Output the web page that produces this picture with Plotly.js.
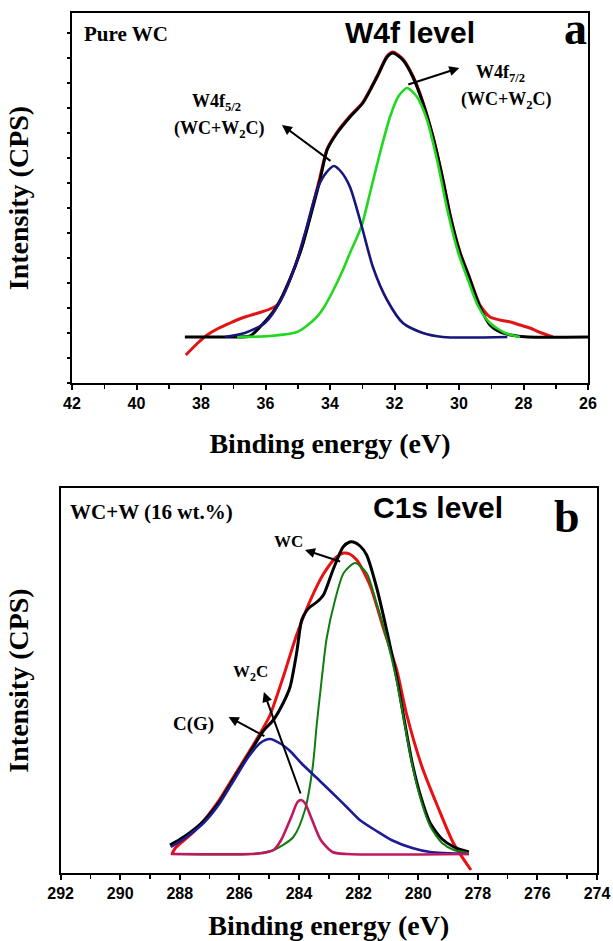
<!DOCTYPE html>
<html>
<head>
<meta charset="utf-8">
<script src="https://cdn.plot.ly/plotly-3.0.1.min.js"></script>
<style>
  html, body { margin: 0; padding: 0; background: #ffffff; }
  #chart { width: 613px; height: 941px; }
</style>
</head>
<body>
<div id="chart"></div>
<script>
// ---------- Panel (a): W4f level, pure WC ----------
// binding energy (eV) and intensity (arbitrary CPS units)
const w4fMeasuredE = [38.50, 37.10, 36.48, 36.17, 35.64, 35.24, 34.87, 34.53, 34.31, 34.09, 33.78, 33.38, 32.98, 32.54, 32.23, 32.05, 31.74, 31.43, 31.12, 30.81, 30.50, 30.28, 29.97, 29.69, 29.35, 29.04, 28.73, 28.40, 27.86, 26.00];
const w4fMeasured  = [46, 46, 47, 56, 77, 104, 136, 176, 203, 233, 250, 266, 280, 306, 326, 330, 323, 306, 280, 246, 203, 168, 130, 106, 76, 58, 51, 48, 46, 46];

const w4fFitE = [38.47, 38.10, 37.81, 37.44, 37.10, 36.73, 36.23, 35.86, 35.64, 35.24, 34.87, 34.53, 34.31, 34.09, 33.78, 33.38, 32.98, 32.54, 32.23, 32.05, 31.74, 31.43, 31.12, 30.81, 30.50, 30.28, 29.97, 29.69, 29.35, 29.04, 28.73, 28.40, 28.11, 27.80, 27.52, 27.09];
const w4fFit  = [28, 40, 48, 55, 60, 65, 70, 74, 78, 104, 137, 178, 206, 234, 251, 267, 281, 307, 327, 331, 324, 307, 281, 247, 204, 169, 131, 107, 78, 66, 63, 61, 58, 55, 51, 46];

const w4f72E = [36.88, 35.86, 35.02, 34.47, 34.20, 33.91, 33.60, 33.38, 33.20, 33.01, 32.76, 32.45, 32.14, 31.89, 31.61, 31.30, 30.99, 30.68, 30.34, 30.03, 29.72, 29.41, 29.04, 28.57, 28.11];
const w4f72  = [46, 47, 51, 64, 75, 92, 113, 130, 143, 158, 190, 230, 266, 286, 295, 286, 263, 223, 170, 131, 103, 77, 60, 50, 46];

const w4f52E = [37.26, 36.64, 36.02, 35.52, 35.09, 34.74, 34.37, 34.10, 33.88, 33.65, 33.38, 33.01, 32.67, 32.23, 31.74, 31.12, 30.50, 28.50];
const w4f52  = [46, 50, 60, 83, 116, 154, 196, 211, 217, 211, 196, 156, 116, 83, 60, 50, 46, 46];

const xTicksA = [42, 40, 38, 36, 34, 32, 30, 28, 26];

// ---------- Panel (b): C1s level, WC+W (16 wt.%) ----------
const c1sMeasuredE = [288.33, 287.87, 287.20, 286.70, 286.20, 285.70, 285.20, 284.86, 284.53, 284.30, 284.08, 283.91, 283.75, 283.63, 283.40, 283.18, 282.86, 282.52, 282.30, 282.18, 281.95, 281.73, 281.40, 281.06, 280.72, 280.45, 280.20, 279.90, 279.60, 279.20, 278.80, 278.30];
const c1sMeasured  = [28, 36, 52, 70, 94, 118, 142, 153, 170, 186, 220, 253, 262, 266, 271, 278, 303, 326, 331, 331, 327, 318, 286, 243, 195, 150, 110, 75, 50, 34, 26, 21];

const c1sFitE = [288.26, 288.15, 288.00, 287.47, 286.70, 286.20, 285.70, 285.20, 284.97, 284.53, 284.08, 283.63, 283.18, 282.74, 282.50, 282.30, 282.06, 281.62, 281.17, 280.72, 280.40, 279.87, 279.34, 278.82, 278.23];
const c1sFit  = [19, 25, 29, 43, 72, 96, 120, 145, 158, 196, 238, 272, 299, 316, 320, 319, 313, 288, 245, 203, 160, 106, 66, 30, 3];

const c1sWCE = [288.30, 285.60, 284.85, 284.19, 283.80, 283.54, 283.40, 283.27, 283.07, 282.79, 282.50, 282.12, 281.73, 281.40, 281.06, 280.72, 280.45, 280.20, 279.90, 279.60, 279.20, 278.80, 278.30];
const c1sWC  = [19, 19, 23, 36, 63, 106, 150, 185, 235, 273, 300, 310, 300, 270, 235, 192, 148, 108, 72, 47, 30, 23, 20];

const c1sCGE = [288.30, 287.87, 287.20, 286.70, 286.20, 285.70, 285.30, 284.98, 284.60, 284.30, 283.93, 283.40, 282.88, 282.40, 281.96, 281.40, 280.90, 280.20, 279.60, 278.30];
const c1sCG  = [26, 34, 50, 68, 92, 116, 130, 134, 129, 122, 110, 95, 80, 66, 53, 42, 33, 25, 21, 19];

const c1sW2CE = [288.30, 285.60, 285.20, 284.85, 284.60, 284.26, 284.05, 283.93, 283.80, 283.60, 283.27, 282.88, 282.40, 278.30];
const c1sW2C  = [19, 19, 20, 23, 33, 56, 71, 73, 70, 56, 33, 21, 19, 19];

const xTicksB = [292, 290, 288, 286, 284, 282, 280, 278, 276, 274];

// ---------- styling helpers ----------
const W = 613, H = 941;
const px = v => v / W;
const py = v => 1 - v / H;
const SERIF = 'Times New Roman, Liberation Serif, serif';
const SANS = 'Arial, Liberation Sans, sans-serif';

function line(x, y, color, width, xa, ya, name) {
  return { x: x, y: y, type: 'scatter', mode: 'lines', name: name,
    line: { color: color, width: width, shape: 'spline', smoothing: 0.7 },
    xaxis: xa, yaxis: ya, hoverinfo: 'skip' };
}

const traces = [
  line(w4fFitE, w4fFit, '#e01414', 3, 'x', 'y', 'Fit'),
  line(w4fMeasuredE, w4fMeasured, '#000000', 3, 'x', 'y', 'Measured'),
  line(w4f72E, w4f72, '#1fd81f', 2.6, 'x', 'y', 'W4f7/2'),
  line(w4f52E, w4f52, '#15157a', 2.6, 'x', 'y', 'W4f5/2'),

  line(c1sFitE, c1sFit, '#e81010', 3, 'x2', 'y2', 'Fit'),
  line(c1sMeasuredE, c1sMeasured, '#000000', 3, 'x2', 'y2', 'Measured'),
  line(c1sWCE, c1sWC, '#0f7d0f', 2, 'x2', 'y2', 'WC'),
  line(c1sCGE, c1sCG, '#1c1c94', 2.6, 'x2', 'y2', 'C(G)'),
  line(c1sW2CE, c1sW2C, '#c0185e', 2.6, 'x2', 'y2', 'W2C')
];

const tickFont = { family: SANS, size: 16, color: '#000', weight: 'bold' };
const titleFont = { family: SERIF, size: 28, color: '#000', weight: 'bold' };

function xaxisCfg(domain, range, tickvals, standoff) {
  return {
    domain: domain, range: range, tickvals: tickvals,
    ticks: 'outside', ticklen: 5, tickwidth: 2, tickcolor: '#000',
    minor: { dtick: 1, ticks: 'outside', ticklen: 4, tickwidth: 1.5, tickcolor: '#000' },
    showline: true, linewidth: 2, linecolor: '#000', mirror: true,
    showgrid: false, zeroline: false, tickfont: tickFont,
    title: { text: 'Binding energy (eV)', font: titleFont, standoff: standoff }
  };
}

const layout = {
  width: W, height: H,
  margin: { l: 0, r: 0, t: 0, b: 0 },
  paper_bgcolor: '#ffffff', plot_bgcolor: '#ffffff',
  showlegend: false,
  xaxis: Object.assign(xaxisCfg([px(72), px(588)], [42, 26], xTicksA, 22), { anchor: 'y' }),
  yaxis: {
    domain: [py(383), py(13)], range: [0, 370], anchor: 'x',
    dtick: 25, tick0: 0, ticks: 'outside', ticklen: 3, tickwidth: 2, tickcolor: '#000',
    showticklabels: false, showline: true, linewidth: 2, linecolor: '#000', mirror: true,
    showgrid: false, zeroline: false,
    title: { text: 'Intensity (CPS)', font: titleFont, standoff: 30 }
  },
  xaxis2: Object.assign(xaxisCfg([px(60.6), px(597)], [292, 274], xTicksB, 14), { anchor: 'y2' }),
  yaxis2: {
    domain: [py(873), py(488)], range: [0, 385], anchor: 'x2',
    ticks: '', showticklabels: false, showline: true, linewidth: 2, linecolor: '#000', mirror: true,
    showgrid: false, zeroline: false,
    title: { text: 'Intensity (CPS)', font: titleFont, standoff: 22 }
  },
  annotations: []
};

function txt(x, y, text, size, family, xanchor) {
  return { xref: 'paper', yref: 'paper', x: px(x), y: py(y), text: text, showarrow: false,
    xanchor: xanchor || 'center', yanchor: 'middle',
    font: { family: family, size: size, color: '#000', weight: 'bold' } };
}
function arrow(xr, yr, headX, headY, tailX, tailY) {
  return { xref: xr, yref: yr, axref: xr, ayref: yr, x: headX, y: headY, ax: tailX, ay: tailY,
    text: '', showarrow: true, arrowhead: 2, arrowsize: 1, arrowwidth: 2, arrowcolor: '#000',
    standoff: 0, startstandoff: 0 };
}

layout.annotations.push(
  // panel a
  txt(82, 34, 'Pure WC', 21, SERIF, 'left'),
  txt(410, 33, 'W4f level', 30, SANS),
  txt(575, 28, 'a', 46, SERIF),
  txt(216, 103, 'W4f<sub>5/2</sub>', 18, SERIF),
  txt(219, 129, '(WC+W<sub>2</sub>C)', 18, SERIF),
  txt(500, 74, 'W4f<sub>7/2</sub>', 18, SERIF),
  txt(507, 100, '(WC+W<sub>2</sub>C)', 18, SERIF),
  arrow('x', 'y', 35.49, 258, 33.94, 221),
  arrow('x', 'y', 29.99, 315, 31.62, 298),
  // panel b
  txt(68, 512, 'WC+W (16 wt.%)', 21, SERIF, 'left'),
  txt(438, 507, 'C1s level', 30, SANS),
  txt(567, 516, 'b', 46, SERIF),
  txt(288, 541, 'WC', 17, SERIF),
  txt(250, 673, 'W<sub>2</sub>C', 17, SERIF),
  txt(193, 724, 'C(G)', 19, SERIF),
  arrow('x2', 'y2', 283.80, 323, 282.57, 311),
  arrow('x2', 'y2', 285.18, 181, 283.93, 78),
  arrow('x2', 'y2', 286.36, 156, 285.11, 136)
);

Plotly.newPlot('chart', traces, layout, { staticPlot: true, displayModeBar: false });
</script>
</body>
</html>
